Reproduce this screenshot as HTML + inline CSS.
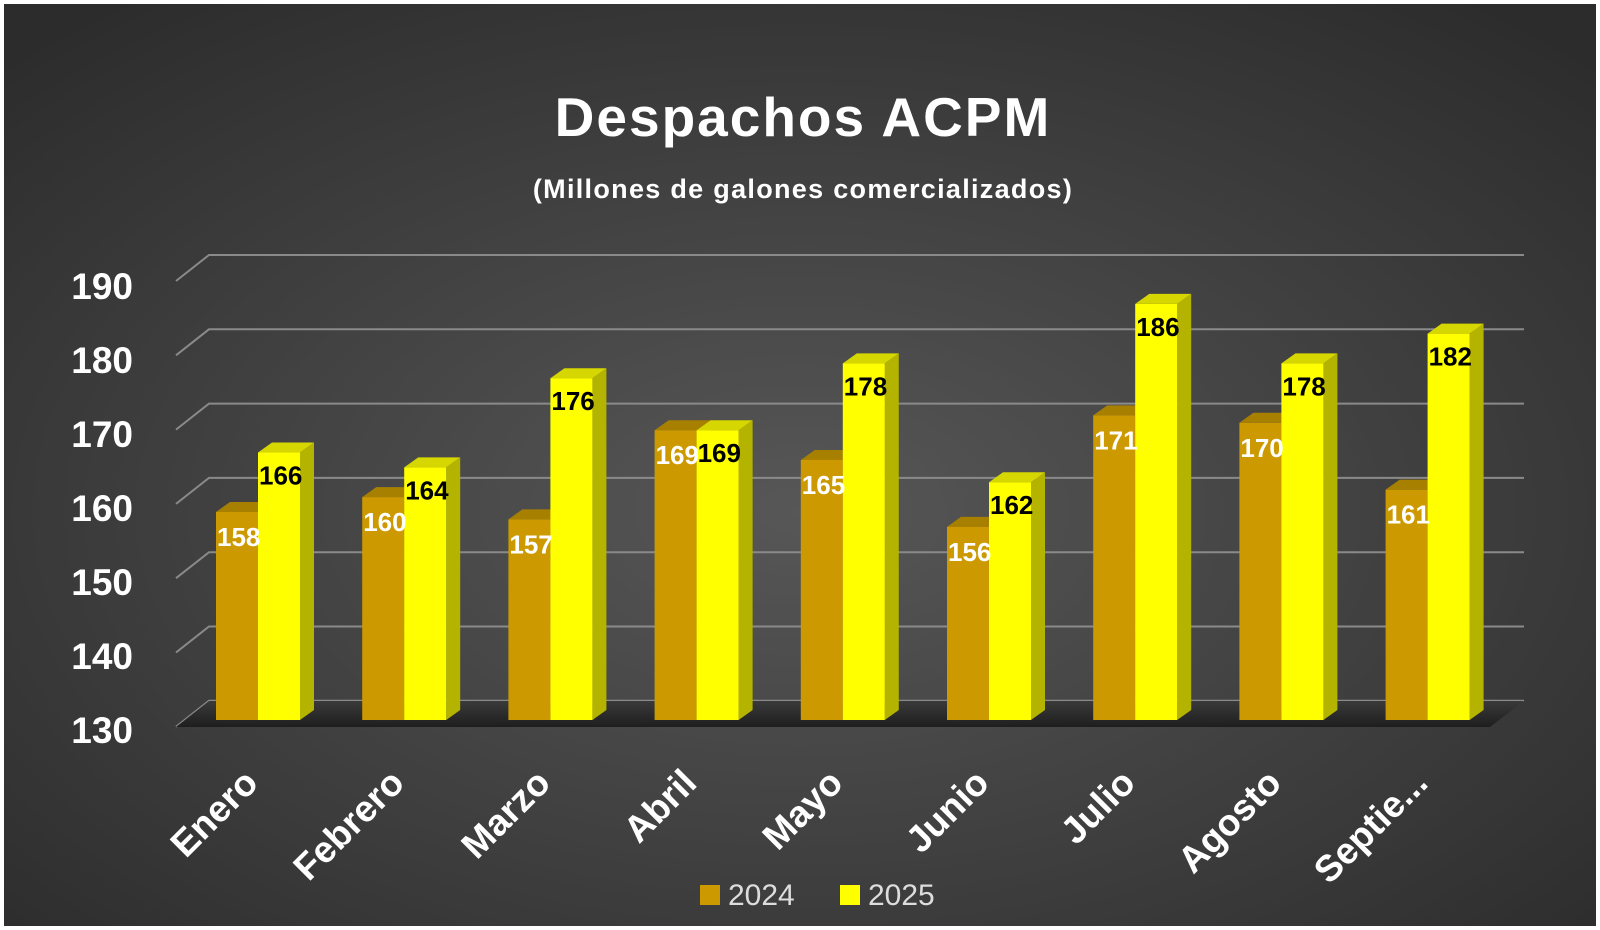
<!DOCTYPE html>
<html><head><meta charset="utf-8"><style>
html,body{margin:0;padding:0;background:#fff;}
svg{display:block;}
text{font-family:"Liberation Sans",sans-serif;}
</style></head><body>
<svg width="1600" height="930" viewBox="0 0 1600 930" xmlns="http://www.w3.org/2000/svg">
<defs>
<radialGradient id="bg" cx="50%" cy="55%" r="70%">
<stop offset="0" stop-color="#575757"/><stop offset="1" stop-color="#2c2c2c"/>
</radialGradient>
<linearGradient id="fl" x1="0" y1="0" x2="0" y2="1">
<stop offset="0" stop-color="#3a3a3a"/><stop offset="1" stop-color="#1e1e1e"/>
</linearGradient>
</defs>
<rect x="0" y="0" width="1600" height="930" fill="#fff"/>
<rect x="4" y="4" width="1592" height="922" fill="url(#bg)"/>
<text x="803" y="136" text-anchor="middle" font-size="55" font-weight="bold" letter-spacing="2" fill="#fff">Despachos ACPM</text>
<text x="803" y="198" text-anchor="middle" font-size="27" font-weight="bold" letter-spacing="1.3" fill="#fff">(Millones de galones comercializados)</text>
<g id="grid" stroke="#8a8a8a" stroke-width="2" fill="none"></g>
<polygon points="176,727 1490,727 1524,701 209,701" fill="url(#fl)"/>
<g id="ylab" font-size="37" font-weight="bold" fill="#fff" text-anchor="end"></g>
<g id="bars"></g>
<g id="xlab" font-size="37" font-weight="bold" fill="#fff"></g>
<rect x="700" y="885" width="20" height="20" fill="#CC9900"/>
<text x="728" y="905" font-size="30" fill="#ddd">2024</text>
<rect x="840" y="885" width="20" height="20" fill="#FFFF00"/>
<text x="868" y="905" font-size="30" fill="#ddd">2025</text>
</svg>
<script>
var NS="http://www.w3.org/2000/svg";
function el(p,t,a,txt){var e=document.createElementNS(NS,t);for(var k in a)e.setAttribute(k,a[k]);if(txt!==undefined)e.textContent=txt;document.getElementById(p).appendChild(e);return e;}
for(var i=0;i<7;i++){var y=255+i*74.3;el("grid","path",{d:"M176,"+(y+26)+" L209,"+y+" L1524,"+y});}
for(var i=0;i<7;i++){el("ylab","text",{x:133,y:299+i*74,},String(190-i*10));}
var a=[158,160,157,169,165,156,171,170,161],b=[166,164,176,169,178,162,186,178,182];
var m=["Enero","Febrero","Marzo","Abril","Mayo","Junio","Julio","Agosto","Septie..."];
var base=720,k=7.43,w=42,d=14,h=10;
function bar(x,v,f,s,t){var y=base-(v-130)*k;
el("bars","polygon",{points:(x+w)+","+y+" "+(x+w+d)+","+(y-h)+" "+(x+w+d)+","+(base-h)+" "+(x+w)+","+base,fill:s});
el("bars","polygon",{points:x+","+y+" "+(x+d)+","+(y-h)+" "+(x+w+d)+","+(y-h)+" "+(x+w)+","+y,fill:t});
el("bars","rect",{x:x,y:y,width:w,height:base-y,fill:f});return y;}
for(var i=0;i<9;i++){var x=216+i*146.2;
var y1=bar(x,a[i],"#CC9900","#9c7600","#a88000");
var y2=bar(x+w,b[i],"#FFFF00","#b3b300","#d6d600");
el("bars","text",{x:x+1,y:y1+34,"font-size":26,"font-weight":"bold",fill:"#fff"},a[i]);
el("bars","text",{x:x+w+1,y:y2+32,"font-size":26,"font-weight":"bold",fill:"#000"},b[i]);
var cx=x+w+2;el("xlab","text",{x:cx,y:785,"text-anchor":"end",transform:"rotate(-45 "+cx+" 785)"},m[i]);}
</script>
</body></html>
